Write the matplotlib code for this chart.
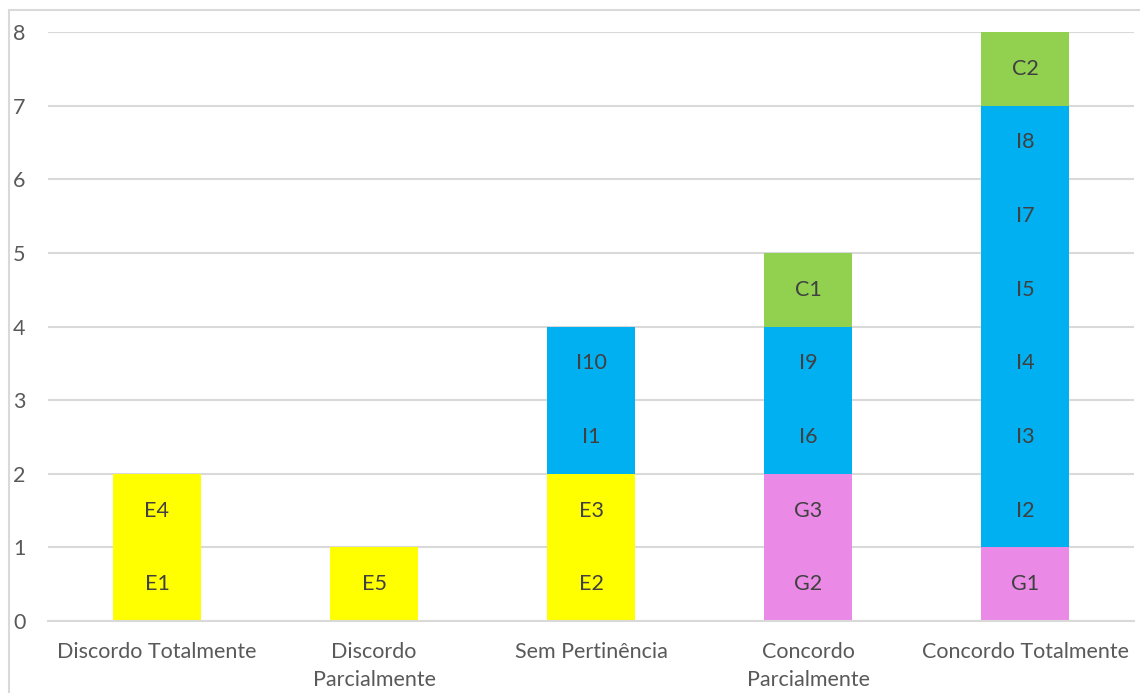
import matplotlib.pyplot as plt
from matplotlib.patches import Rectangle

categories = ["Discordo Totalmente", "Discordo\nParcialmente", "Sem Pertinência",
              "Concordo\nParcialmente", "Concordo Totalmente"]

# segment labels per category, stacked bottom to top, one unit each
g_labels = [[], [], [], ["G2", "G3"], ["G1"]]
e_labels = [["E1", "E4"], ["E5"], ["E2", "E3"], [], []]
i_labels = [[], [], ["I1", "I10"], ["I6", "I9"], ["I2", "I3", "I4", "I5", "I7", "I8"]]
c_labels = [[], [], [], ["C1"], ["C2"]]

groups = [(g_labels, "#EA8AE6"), (e_labels, "#FFFF00"),
          (i_labels, "#00B0F0"), (c_labels, "#92D050")]

plt.rcParams['font.family'] = ['Lato', 'DejaVu Sans']
fig = plt.figure(figsize=(11.4, 6.93), dpi=100)
ax = fig.add_axes([0.0425, 0.1039, 0.952, 0.8499])

bottoms = [0] * len(categories)
for labels, color in groups:
    for k, segs in enumerate(labels):
        for lab in segs:
            ax.bar(k, 1, bottom=bottoms[k], width=0.405, color=color, zorder=2)
            ax.text(k, bottoms[k] + 0.5, lab, ha='center', va='center',
                    fontsize=15.5, color='#404040', zorder=3)
            bottoms[k] += 1

ax.set_xlim(-0.5, len(categories) - 0.5)
ax.set_ylim(0, 8)
ax.set_yticks(range(0, 9))
ax.set_xticks(range(len(categories)))
ax.set_xticklabels(categories, linespacing=1.5)
ax.tick_params(axis='y', length=0, pad=16.5, labelsize=15.5, labelcolor='#595959')
ax.tick_params(axis='x', length=0, pad=15, labelsize=15.5, labelcolor='#595959')
ax.grid(axis='y', color='#d9d9d9', lw=1.5, zorder=0)
ax.set_axisbelow(True)
for s in ['top', 'right', 'left']:
    ax.spines[s].set_visible(False)
ax.spines['bottom'].set_color('#d9d9d9')
ax.spines['bottom'].set_linewidth(1.5)

fig.add_artist(Rectangle((9 / 1140, -0.1), 1.2, (693 - 10) / 693 + 0.1,
                         transform=fig.transFigure, fill=False,
                         ec='#d9d9d9', lw=1.5))

fig.savefig("out.png", dpi=100)
